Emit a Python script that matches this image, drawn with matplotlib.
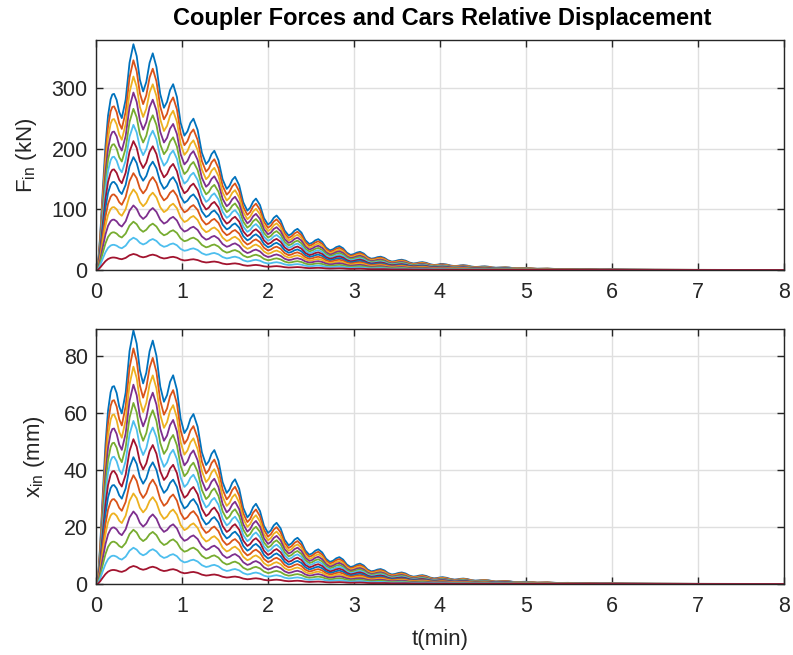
import matplotlib
matplotlib.use("Agg")
import matplotlib.pyplot as plt
import numpy as np

# time axis (min) and force of the most loaded coupler (kN)
t_min = [0.0, 0.02, 0.05, 0.08, 0.11, 0.14, 0.17, 0.19, 0.21,
         0.24, 0.27, 0.30, 0.345, 0.39, 0.435, 0.473, 0.510, 0.548,
         0.585, 0.623, 0.66, 0.703, 0.747, 0.79, 0.826, 0.861, 0.897,
         0.941, 0.984, 1.028, 1.063, 1.098, 1.133, 1.182, 1.231, 1.28,
         1.312, 1.344, 1.376, 1.424, 1.472, 1.52, 1.552, 1.585, 1.617,
         1.665, 1.712, 1.76, 1.793, 1.827, 1.86, 1.907, 1.953, 2.00,
         2.033, 2.067, 2.10, 2.147, 2.193, 2.24, 2.274, 2.309, 2.343,
         2.389, 2.434, 2.48, 2.515, 2.55, 2.585, 2.63, 2.675, 2.72,
         2.757, 2.793, 2.83, 2.873, 2.917, 2.96, 2.997, 3.033, 3.07,
         3.113, 3.157, 3.20, 3.237, 3.273, 3.31, 3.353, 3.397, 3.44,
         3.478, 3.517, 3.555, 3.60, 3.645, 3.69, 3.725, 3.76, 3.795,
         3.84, 3.885, 3.93, 3.963, 3.997, 4.03, 4.077, 4.123, 4.17,
         4.203, 4.237, 4.27, 4.317, 4.363, 4.41, 4.447, 4.483, 4.52,
         4.563, 4.607, 4.65, 4.687, 4.723, 4.76, 4.803, 4.847, 4.89,
         4.927, 4.963, 5.0, 5.13, 5.25, 5.37, 5.49, 5.62, 5.73,
         5.86, 5.97, 6.2, 6.5, 7.0, 7.5, 8.0]
f_top = [0, 0, 60, 135, 205, 255, 282, 290, 291,
         281, 261, 251, 281.5, 342.5, 373, 353.5, 314.5, 295,
         310.75, 342.25, 358, 335.5, 290.5, 268, 277.75, 297.25, 307,
         285.75, 243.25, 222, 229, 243, 250, 231.25, 193.75, 175,
         180.5, 191.5, 197, 181.25, 149.75, 134, 139, 149, 154,
         140, 112, 98, 103, 113, 118, 107.25, 85.75, 75,
         78.75, 86.25, 90, 81.75, 65.25, 57, 59.75, 65.25, 68,
         61.75, 49.25, 43, 45, 49, 51, 46.4, 37.1, 32.5,
         34.25, 37.75, 39.5, 35.9, 28.6, 25, 26.25, 28.75, 30,
         27.2, 21.5, 18.7, 19.5, 21.2, 22, 20, 16, 14,
         14.75, 16.25, 17, 15.45, 12.35, 10.8, 11.35, 12.45, 13,
         11.8, 9.5, 8.3, 8.7, 9.6, 10, 9.1, 7.4, 6.5,
         6.9, 7.6, 8, 7.25, 5.75, 5, 5.25, 5.75, 6,
         5.45, 4.35, 3.8, 4.0, 4.3, 4.5, 4.1, 3.2, 2.8,
         2.9, 3.2, 3.3, 2.1, 2.4, 1.5, 1.7, 1.0, 1.2,
         0.7, 0.8, 0.5, 0.35, 0.2, 0.15, 0.1]

# share of the top force carried by each coupler (14 couplers)
coupler_share = [1.0, 0.929, 0.857, 0.786, 0.714, 0.643, 0.571,
                 0.5, 0.429, 0.357, 0.286, 0.214, 0.143, 0.071]
# coupler stiffness, kN per mm (ratio of the two panels)
k_coupler = 4.2

matlab_colors = ["#0072BD", "#D95319", "#EDB120", "#7E2F8E",
                 "#77AC30", "#4DBEEE", "#A2142F"]

plt.rcParams['font.family'] = ['Liberation Sans', 'DejaVu Sans']
plt.rcParams['mathtext.fontset'] = 'custom'
plt.rcParams['mathtext.rm'] = 'Liberation Sans'

t = np.array(t_min)
F = np.array(f_top)

fig = plt.figure(figsize=(7.93, 6.55), dpi=100)
ax1 = fig.add_axes([96/793, 1 - 270/655, 688/793, 230/655])
ax2 = fig.add_axes([96/793, 1 - 584/655, 688/793, 255/655])

for i, share in enumerate(coupler_share):
    c = matlab_colors[i % 7]
    ax1.plot(t, F * share, color=c, lw=1.3)
    ax2.plot(t, F * share / k_coupler, color=c, lw=1.3)

for ax in (ax1, ax2):
    ax.set_xlim(0, 8)
    ax.set_xticks(range(0, 9))
    ax.grid(True, color='#DFDFDF', lw=1.0)
    ax.set_axisbelow(True)
    ax.tick_params(direction='in', length=5, width=1, colors='#262626',
                   labelsize=15.5, top=True, right=True)
    ax.tick_params(axis='x', pad=9)
    ax.tick_params(axis='y', pad=6)
    for s in ax.spines.values():
        s.set_color('#262626')
        s.set_linewidth(1.0)

ax1.set_ylim(0, 380)
ax1.set_yticks([0, 100, 200, 300])
ax2.set_ylim(0, 89.3)
ax2.set_yticks([0, 20, 40, 60, 80])

ax1.set_ylabel(r'F$_{\mathregular{in}}$ (kN)', fontsize=16, color='#262626')
ax1.yaxis.set_label_coords(-0.083, 0.5)
ax2.set_ylabel(r'x$_{\mathregular{in}}$ (mm)', fontsize=16, color='#262626')
ax2.yaxis.set_label_coords(-0.071, 0.5)
ax2.set_xlabel('t(min)', fontsize=16, color='#262626')
ax2.xaxis.set_label_coords(0.5, -0.175)

fig.text(442/793, 1 - 18/655, 'Coupler Forces and Cars Relative Displacement',
         ha='center', va='center', fontsize=17, fontweight='bold')

fig.savefig('out.png', dpi=100)
